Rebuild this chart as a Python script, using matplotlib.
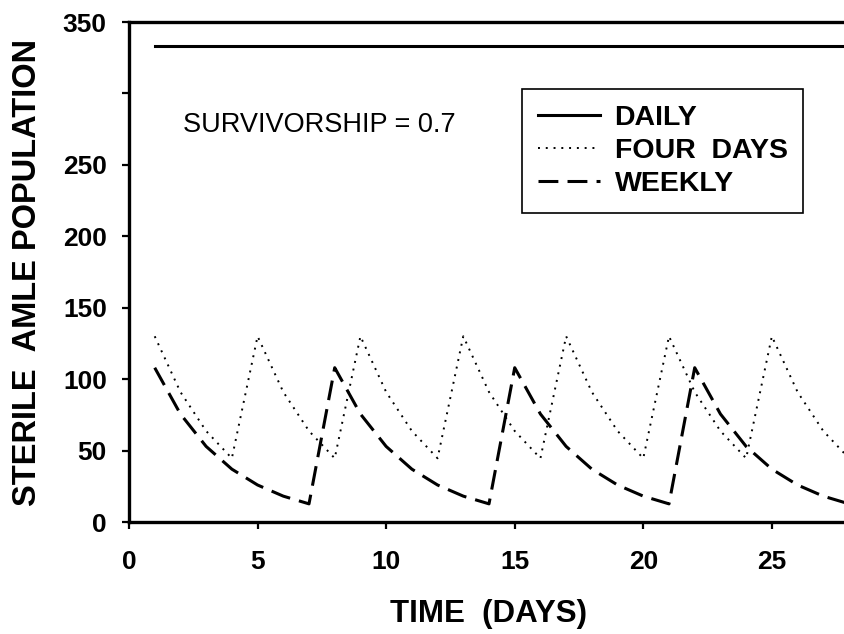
import matplotlib
matplotlib.use('Agg')
import matplotlib.pyplot as plt

plt.rcParams['font.family'] = ['Liberation Sans', 'DejaVu Sans']

days = list(range(1, 29))
daily = [333, 333, 333, 333, 333, 333, 333, 333, 333, 333, 333, 333, 333, 333,
         333, 333, 333, 333, 333, 333, 333, 333, 333, 333, 333, 333, 333, 333]
four_days = [130, 91, 63.7, 44.6, 130, 91, 63.7, 44.6, 130, 91, 63.7, 44.6,
             130, 91, 63.7, 44.6, 130, 91, 63.7, 44.6, 130, 91, 63.7, 44.6,
             130, 91, 63.7, 44.6]
weekly = [108, 75.6, 52.9, 37.0, 25.9, 18.1, 12.7,
          108, 75.6, 52.9, 37.0, 25.9, 18.1, 12.7,
          108, 75.6, 52.9, 37.0, 25.9, 18.1, 12.7,
          108, 75.6, 52.9, 37.0, 25.9, 18.1, 12.7]
yticks = [0, 50, 100, 150, 200, 250, 300, 350]
ytick_labels = ['0', '50', '100', '150', '200', '250', '', '350']
xticks = [0, 5, 10, 15, 20, 25]

fig = plt.figure(figsize=(8.45, 6.34), dpi=100)
ax = fig.add_axes([129 / 845, 1 - 522 / 634, (849 - 129) / 845, 500 / 634])

ax.plot(days, daily, color='black', lw=2.2, label='DAILY')
ax.plot(days, four_days, color='black', lw=1.4, linestyle=(0, (1, 3)), label='FOUR  DAYS')
ax.plot(days, weekly, color='black', lw=2.2, linestyle=(0, (6.5, 3)), label='WEEKLY')

ax.set_xlim(0, 28)
ax.set_ylim(0, 350)
ax.set_xticks(xticks)
ax.set_yticks(yticks)
ax.set_yticklabels(ytick_labels)
ax.tick_params(axis='both', direction='out', length=5, width=1.6, labelsize=19)
ax.tick_params(axis='y', pad=11)
ax.tick_params(axis='x', pad=15)
for lab in ax.get_xticklabels() + ax.get_yticklabels():
    lab.set_fontweight('bold')

for s in ['left', 'bottom', 'top']:
    ax.spines[s].set_linewidth(2.4)
ax.spines['right'].set_visible(False)

ax.set_xlabel('TIME  (DAYS)', fontsize=22.5, fontweight='bold', labelpad=18)
ax.set_ylabel('STERILE  AMLE POPULATION', fontsize=23.5, fontweight='bold', labelpad=14)

ax.text(183 / 845, 1 - 132 / 634, 'SURVIVORSHIP = 0.7', transform=fig.transFigure,
        fontsize=19.5, ha='left', va='baseline')

leg = ax.legend(loc='upper left', bbox_to_anchor=(522 / 845, 1 - 89 / 634),
                bbox_transform=fig.transFigure, borderaxespad=0, fancybox=False,
                edgecolor='black', framealpha=1, handlelength=2.2, handletextpad=0.5,
                labelspacing=0.25, borderpad=0.55, prop={'size': 20.5, 'weight': 'bold'})
leg.get_frame().set_linewidth(1.2)

fig.savefig('out.png', dpi=100)
